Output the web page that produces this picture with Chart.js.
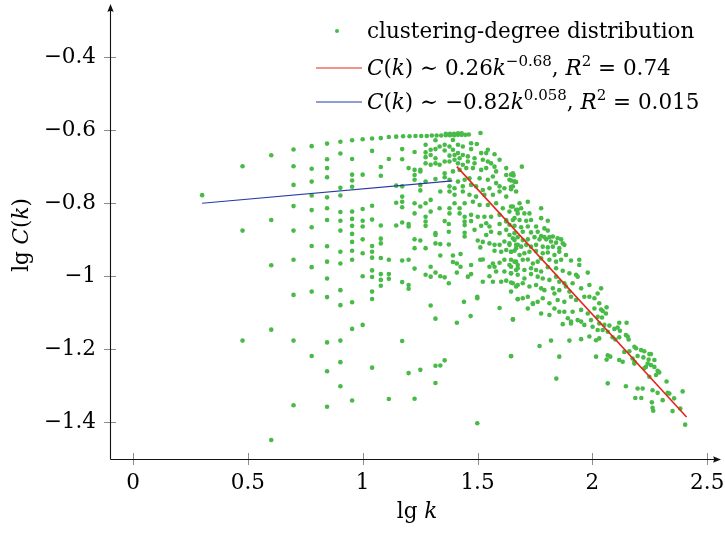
<!DOCTYPE html>
<html>
<head>
<meta charset="utf-8">
<script src="https://cdn.jsdelivr.net/npm/chart.js@4"></script>
<style>
  body { margin: 0; background: #fff; }
  #wrap { width: 725px; height: 533px; }
</style>
</head>
<body>
<div id="wrap"><canvas id="chart" width="725" height="533"></canvas></div>
<script>
// lg k / lg C(k) pairs
const lowDegree = [
    [0.301,-0.778],
    [0.477,-0.699],[0.477,-0.875],[0.477,-1.176],
    [0.602,-0.669],[0.602,-0.846],[0.602,-0.970],[0.602,-1.146],[0.602,-1.448],
    [0.699,-0.653],[0.699,-0.699],[0.699,-0.750],[0.699,-0.808],[0.699,-0.875],[0.699,-0.955],[0.699,-1.051],[0.699,-1.176],[0.699,-1.353],
    [0.778,-0.644],[0.778,-0.706],[0.778,-0.741],[0.778,-0.779],[0.778,-0.819],[0.778,-0.866],[0.778,-0.917],[0.778,-0.975],[0.778,-1.042],[0.778,-1.218],
    [0.845,-0.637],[0.845,-0.680],[0.845,-0.704],[0.845,-0.729],[0.845,-0.784],[0.845,-0.814],[0.845,-0.846],[0.845,-0.918],[0.845,-0.960],[0.845,-1.006],[0.845,-1.057],[0.845,-1.181],[0.845,-1.260],[0.845,-1.357],
    [0.903,-0.632],[0.903,-0.664],[0.903,-0.758],[0.903,-0.779],[0.903,-0.824],[0.903,-0.848],[0.903,-0.875],[0.903,-0.933],[0.903,-0.965],[0.903,-1.038],[0.903,-1.079],[0.903,-1.176],[0.903,-1.235],[0.903,-1.301],
    [0.954,-0.628],[0.954,-0.679],[0.954,-0.722],[0.954,-0.738],[0.954,-0.755],[0.954,-0.823],[0.954,-0.843],[0.954,-0.862],[0.954,-0.884],[0.954,-0.906],[0.954,-0.930],[0.954,-0.955],[0.954,-1.071],[0.954,-1.144],[0.954,-1.340],
    [1.000,-0.625],[1.000,-0.722],[1.000,-0.816],[1.000,-0.848],[1.000,-0.864],[1.000,-0.899],[1.000,-0.937],[1.000,-1.000],[1.000,-1.133],
    [1.041,-0.623],[1.041,-0.657],[1.041,-0.807],[1.041,-0.845],[1.041,-0.917],[1.041,-0.933],[1.041,-0.949],[1.041,-0.984],[1.041,-1.002],[1.041,-1.042],[1.041,-1.062],[1.041,-1.250],
    [1.079,-0.622],[1.079,-0.701],[1.079,-0.725],[1.079,-0.861],[1.079,-0.897],[1.079,-0.910],[1.079,-0.950],[1.079,-0.994],[1.079,-1.010],[1.079,-1.026],
    [1.114,-0.619],[1.114,-0.679],[1.114,-0.955],[1.114,-0.994],[1.114,-1.007],[1.114,-1.336],
    [1.146,-0.618],[1.146,-0.752],[1.146,-0.799],[1.146,-0.861]
];

const midDegree = [
    [1.176,-0.617],[1.204,-0.617],[1.230,-0.616],[1.255,-0.616],[1.279,-0.616],[1.301,-0.615],[1.322,-0.615],[1.342,-0.615],
    [1.362,-0.614],[1.380,-0.614],[1.398,-0.614],[1.415,-0.613],[1.431,-0.613],[1.447,-0.613],[1.462,-0.612],[1.513,-0.608],
    [1.362,-0.610],[1.380,-0.610],[1.398,-0.610],[1.415,-0.609],[1.431,-0.609],
    [1.274,-0.640],[1.317,-0.628],[1.335,-0.645],[1.357,-0.640],[1.378,-0.645],[1.393,-0.627],[1.415,-0.640],[1.436,-0.645],[1.472,-0.636],[1.497,-0.638],
    [1.172,-0.652],[1.226,-0.660],[1.274,-0.661],[1.296,-0.654],[1.317,-0.652],[1.357,-0.656],[1.393,-0.654],[1.415,-0.663],[1.436,-0.668],[1.472,-0.652],[1.545,-0.654],
    [1.172,-0.680],[1.274,-0.674],[1.296,-0.668],[1.317,-0.677],[1.378,-0.670],[1.400,-0.668],[1.422,-0.677],[1.458,-0.672],[1.487,-0.677],[1.516,-0.663],[1.538,-0.663],[1.574,-0.666],
    [1.200,-0.704],[1.226,-0.709],[1.251,-0.713],[1.274,-0.691],[1.296,-0.695],[1.317,-0.691],[1.335,-0.695],[1.357,-0.686],[1.378,-0.686],[1.400,-0.681],[1.415,-0.691],[1.436,-0.695],[1.458,-0.686],[1.487,-0.691],[1.523,-0.681],[1.545,-0.686],[1.559,-0.691],[1.596,-0.681],
    [1.226,-0.723],[1.251,-0.709],[1.357,-0.718],[1.393,-0.713],[1.422,-0.709],[1.451,-0.704],[1.480,-0.704],[1.516,-0.709],[1.538,-0.704],[1.574,-0.700],[1.581,-0.713],[1.625,-0.704],[1.654,-0.718],
    [1.226,-0.736],[1.274,-0.741],[1.317,-0.734],[1.357,-0.729],[1.378,-0.736],[1.415,-0.741],[1.444,-0.736],[1.465,-0.732],[1.509,-0.732],[1.545,-0.736],[1.567,-0.727],[1.581,-0.745],[1.625,-0.723],[1.639,-0.736],[1.661,-0.741],
    [1.172,-0.754],[1.251,-0.750],[1.338,-0.768],[1.378,-0.754],[1.400,-0.759],[1.436,-0.754],[1.472,-0.750],[1.494,-0.754],[1.523,-0.764],[1.552,-0.759],[1.596,-0.754],[1.617,-0.759],[1.654,-0.754],
    [1.251,-0.765],[1.378,-0.768],[1.400,-0.777],[1.436,-0.768],[1.465,-0.777],[1.494,-0.782],[1.530,-0.777],[1.567,-0.777],[1.596,-0.768],[1.625,-0.782],[1.668,-0.768],
    [1.172,-0.782],[1.172,-0.796],[1.172,-0.811],[1.226,-0.800],[1.251,-0.809],[1.274,-0.800],[1.296,-0.791],[1.335,-0.814],[1.378,-0.814],[1.400,-0.800],[1.422,-0.814],[1.444,-0.800],
    [1.480,-0.796],[1.509,-0.805],[1.545,-0.805],[1.581,-0.800],[1.610,-0.814],[1.646,-0.809],[1.675,-0.818],
    [1.226,-0.828],[1.274,-0.837],[1.296,-0.823],[1.378,-0.828],[1.422,-0.828],[1.444,-0.837],[1.472,-0.832],[1.501,-0.837],[1.530,-0.837],[1.559,-0.837],[1.596,-0.832],[1.625,-0.846],[1.661,-0.841],
    [1.172,-0.853],[1.200,-0.857],[1.200,-0.864],[1.274,-0.850],[1.274,-0.862],[1.357,-0.849],[1.375,-0.857],[1.444,-0.850],[1.444,-0.860],[1.472,-0.849],[1.516,-0.862],[1.538,-0.855],[1.552,-0.864],[1.596,-0.857],[1.625,-0.850],
    [1.317,-0.882],[1.317,-0.887],[1.375,-0.878],[1.444,-0.881],[1.444,-0.891],[1.487,-0.873],[1.538,-0.887],[1.559,-0.878],[1.596,-0.882],[1.625,-0.873],[1.639,-0.887],[1.661,-0.882],
    [1.226,-0.899],[1.251,-0.902],[1.317,-0.910],[1.338,-0.912],[1.375,-0.913],[1.501,-0.902],[1.523,-0.906],[1.552,-0.910],[1.574,-0.914],[1.596,-0.914],[1.617,-0.905],[1.639,-0.910],[1.661,-0.901],[1.675,-0.914],
    [1.226,-0.923],[1.274,-0.923],[1.512,-0.921],[1.574,-0.930],[1.603,-0.933],[1.625,-0.928],[1.646,-0.933],[1.668,-0.923],
    [1.338,-0.943],[1.393,-0.943],[1.426,-0.939],[1.172,-0.957],[1.200,-0.955],[1.226,-0.979],[1.393,-0.961],[1.410,-0.965],[1.426,-0.974],[1.472,-0.969],
    [1.512,-0.955],[1.523,-0.954],[1.567,-0.965],[1.574,-0.974],[1.596,-0.963],[1.617,-0.955],[1.639,-0.969],[1.661,-0.960],[1.675,-0.969],
    [1.296,-0.974],[1.552,-0.974],[1.581,-0.987],[1.617,-0.987],[1.646,-0.992],[1.668,-0.983],
    [1.274,-0.996],[1.296,-1.001],[1.317,-0.990],[1.338,-1.000],[1.357,-1.003],[1.410,-0.990],[1.458,-1.001],[1.472,-0.994],[1.552,-1.000],
    [1.603,-1.015],[1.625,-1.012],[1.646,-1.017],[1.668,-1.028],
    [1.172,-1.016],[1.200,-1.024],[1.200,-1.034],[1.375,-1.019],[1.523,-1.015],[1.567,-1.015],
    [1.499,-1.056],[1.499,-1.060],[1.441,-1.070],[1.675,-1.062],[1.296,-1.080],[1.596,-1.087],
    [1.317,-1.116],[1.470,-1.109],[1.654,-1.118],[1.410,-1.127],
    [1.172,-1.177],[1.200,-1.265],[1.251,-1.256],[1.317,-1.245],[1.338,-1.244],[1.357,-1.230],[1.317,-1.292],[1.226,-1.335],[1.499,-1.402],[1.646,-1.219]
];

const highDegree = [
    [1.693,-0.700],[1.646,-0.722],[1.657,-0.724],[1.646,-0.738],[1.661,-0.741],[1.668,-0.742],[1.646,-0.756],[1.646,-0.762],
    [1.683,-0.800],[1.719,-0.796],[1.777,-0.814],[1.654,-0.809],[1.668,-0.818],[1.690,-0.814],[1.639,-0.823],[1.675,-0.828],[1.704,-0.828],[1.726,-0.828],
    [1.777,-0.841],[1.806,-0.848],[1.654,-0.846],[1.683,-0.846],[1.712,-0.848],[1.733,-0.846],[1.755,-0.864],[1.791,-0.869],[1.806,-0.875],
    [1.639,-0.859],[1.661,-0.862],[1.690,-0.866],[1.719,-0.864],[1.697,-0.878],[1.733,-0.880],[1.762,-0.878],[1.777,-0.890],[1.791,-0.893],
    [1.813,-0.893],[1.828,-0.891],[1.849,-0.896],[1.864,-0.899],[1.654,-0.896],[1.675,-0.893],[1.697,-0.901],[1.719,-0.899],[1.748,-0.893],
    [1.770,-0.899],[1.799,-0.899],[1.820,-0.905],[1.842,-0.908],[1.871,-0.910],[1.639,-0.914],[1.668,-0.914],[1.690,-0.919],[1.712,-0.914],
    [1.733,-0.919],[1.755,-0.914],[1.784,-0.919],[1.806,-0.921],[1.828,-0.919],[1.856,-0.923],[1.878,-0.914],
    [1.646,-0.933],[1.661,-0.930],[1.683,-0.942],[1.704,-0.937],[1.726,-0.933],[1.755,-0.931],[1.784,-0.937],[1.806,-0.935],[1.835,-0.942],[1.856,-0.933],[1.885,-0.942],
    [1.646,-0.955],[1.668,-0.960],[1.697,-0.955],[1.719,-0.954],[1.741,-0.965],[1.762,-0.960],[1.777,-0.951],[1.813,-0.955],[1.842,-0.960],[1.864,-0.955],[1.907,-0.957],[1.943,-0.955],
    [1.646,-0.974],[1.675,-0.978],[1.704,-0.983],[1.733,-0.978],[1.755,-0.983],[1.777,-0.987],[1.806,-0.975],[1.842,-0.978],[1.871,-0.985],[1.900,-0.992],[1.929,-0.996],[1.943,-0.969],[1.980,-0.990],
    [1.646,-0.992],[1.675,-0.996],[1.704,-1.006],[1.733,-0.994],[1.762,-1.001],[1.784,-1.006],[1.813,-1.010],[1.842,-1.001],[1.856,-1.015],[1.878,-1.019],[1.914,-1.019],[1.936,-1.001],
    [1.654,-1.019],[1.675,-1.024],[1.697,-1.019],[1.726,-1.028],[1.755,-1.024],[1.777,-1.033],[1.791,-1.038],[1.828,-1.033],[1.856,-1.038],[1.885,-1.028],[1.900,-1.042],[1.951,-1.033],[1.987,-1.024],[2.023,-1.047],
    [1.646,-1.042],[1.675,-1.063],[1.697,-1.060],[1.719,-1.056],[1.741,-1.074],[1.762,-1.070],[1.784,-1.060],[1.813,-1.074],[1.835,-1.047],[1.849,-1.065],[1.878,-1.070],[1.907,-1.056],[1.929,-1.065],[1.965,-1.056],[1.987,-1.056],[2.009,-1.060],
    [1.719,-1.088],[1.741,-1.076],[1.777,-1.102],[1.813,-1.106],[1.835,-1.088],[1.856,-1.097],[1.878,-1.097],[1.914,-1.097],[1.951,-1.092],[1.980,-1.102],[2.009,-1.088],
    [1.654,-1.118],[1.893,-1.115],[1.907,-1.124],[1.936,-1.120],[1.965,-1.133],[1.994,-1.120],[2.023,-1.111],[1.871,-1.131],[1.907,-1.129],[1.951,-1.124],[2.001,-1.138],[2.023,-1.147],
    [1.820,-1.176],[1.900,-1.176],[1.951,-1.172],[1.987,-1.165],[2.016,-1.175],[1.770,-1.191],[1.646,-1.218],[1.856,-1.220],[2.016,-1.220],[1.843,-1.280],
    [2.038,-1.033],[2.030,-1.074],[2.038,-1.091],[2.045,-1.095],[2.059,-1.102],[2.062,-1.085],[2.042,-1.113],[2.030,-1.129],[2.052,-1.133],[2.074,-1.135],
    [2.045,-1.147],[2.067,-1.152],[2.096,-1.144],[2.110,-1.140],[2.117,-1.127],[2.120,-1.149],[2.149,-1.127],[2.030,-1.170],[2.088,-1.167],[2.100,-1.173],
    [2.117,-1.167],[2.146,-1.161],[2.158,-1.173],[2.154,-1.165],[2.139,-1.207],[2.161,-1.205],[2.067,-1.216],[2.078,-1.220],[2.062,-1.228],[2.117,-1.229],
    [2.132,-1.234],[2.183,-1.193],[2.190,-1.197],[2.212,-1.202],[2.226,-1.205],[2.248,-1.213],[2.255,-1.213],[2.197,-1.218],[2.222,-1.222],[2.245,-1.228],
    [2.270,-1.229],[2.175,-1.225],[2.183,-1.234],[2.183,-1.239],[2.241,-1.239],[2.255,-1.243],[2.233,-1.248],[2.226,-1.252],[2.270,-1.248],[2.284,-1.259],
    [2.291,-1.263],[2.277,-1.270],[2.248,-1.275],[2.067,-1.293],[2.146,-1.301],[2.197,-1.307],[2.219,-1.307],[2.262,-1.312],[2.284,-1.319],[2.323,-1.288],
    [2.328,-1.319],[2.335,-1.321],[2.306,-1.339],[2.356,-1.334],[2.393,-1.315],[2.187,-1.333],[2.213,-1.333],[2.259,-1.345],[2.262,-1.360],[2.265,-1.368],
    [2.349,-1.369],[2.383,-1.362],[2.404,-1.406]
];

// fitted lines (end points)
const powerFit = [[1.41, -0.700], [2.41, -1.385]];
const flatFit = [[0.301, -0.800], [1.39, -0.739]];

const xTicks = [0, 0.5, 1, 1.5, 2, 2.5];
const yTicks = [-1.4, -1.2, -1, -0.8, -0.6, -0.4];

const green = 'rgb(72,186,72)';
const red = 'rgb(228,38,28)';
const blue = 'rgb(40,58,165)';
const FONT = '"DejaVu Serif", serif';
const FS = 21.5;

const toXY = arr => arr.map(p => ({ x: p[0], y: p[1] }));

function drawRich(ctx, segs, x, y) {
    let cx = x;
    segs.forEach(s => {
        const size = s.sup ? 15 : FS;
        ctx.font = (s.it ? 'italic ' : '') + size + 'px ' + FONT;
        ctx.fillText(s.t, cx, s.sup ? y - 9 : y);
        cx += ctx.measureText(s.t).width;
    });
    return cx;
}

function richWidth(ctx, segs) {
    let w = 0;
    segs.forEach(s => {
        ctx.font = (s.it ? 'italic ' : '') + (s.sup ? 15 : FS) + 'px ' + FONT;
        w += ctx.measureText(s.t).width;
    });
    return w;
}

// drop the label overhang padding so the plot area sits where the reference has it
function noPad(s) {
    s.paddingTop = 0; s.paddingBottom = 0; s.paddingLeft = 0; s.paddingRight = 0;
}

const decorPlugin = {
    id: 'decor',
    afterDraw(chart) {
        const ctx = chart.ctx;
        const area = chart.chartArea;
        const xs = chart.scales.x, ys = chart.scales.y;
        ctx.save();

        // tick marks across the axes
        ctx.strokeStyle = '#8c8c8c';
        ctx.lineWidth = 1;
        yTicks.forEach(v => {
            const py = Math.round(ys.getPixelForValue(v)) + 0.5;
            ctx.beginPath(); ctx.moveTo(area.left - 6, py); ctx.lineTo(area.left + 6, py); ctx.stroke();
        });
        xTicks.forEach(v => {
            const px = Math.round(xs.getPixelForValue(v)) + 0.5;
            ctx.beginPath(); ctx.moveTo(px, area.bottom - 6); ctx.lineTo(px, area.bottom + 6); ctx.stroke();
        });

        // axis lines with arrow heads
        ctx.strokeStyle = '#111';
        ctx.fillStyle = '#111';
        ctx.lineWidth = 1.1;
        const ax = area.left + 0.5, ay = area.bottom + 0.5;
        ctx.beginPath(); ctx.moveTo(ax, ay); ctx.lineTo(ax, area.top + 3); ctx.stroke();
        ctx.beginPath(); ctx.moveTo(ax, ay); ctx.lineTo(area.right - 3, ay); ctx.stroke();
        ctx.beginPath();
        ctx.moveTo(ax, area.top); ctx.lineTo(ax - 3.2, area.top + 8); ctx.quadraticCurveTo(ax, area.top + 6, ax + 3.2, area.top + 8); ctx.closePath(); ctx.fill();
        ctx.beginPath();
        ctx.moveTo(area.right, ay); ctx.lineTo(area.right - 8, ay - 3.2); ctx.quadraticCurveTo(area.right - 6, ay, area.right - 8, ay + 3.2); ctx.closePath(); ctx.fill();

        // axis titles
        ctx.fillStyle = '#000';
        ctx.textBaseline = 'alphabetic';
        const xt = [{ t: 'lg ' }, { t: 'k', it: true }];
        drawRich(ctx, xt, 417 - richWidth(ctx, xt) / 2, 518);

        ctx.save();
        ctx.translate(28, 235);
        ctx.rotate(-Math.PI / 2);
        const yt = [{ t: 'lg ' }, { t: 'C', it: true }, { t: '(' }, { t: 'k', it: true }, { t: ')' }];
        drawRich(ctx, yt, -richWidth(ctx, yt) / 2, 0);
        ctx.restore();

        // legend
        const lx = 316, tx = 367;
        const rows = [31, 68, 102];
        ctx.fillStyle = green;
        ctx.beginPath(); ctx.arc(337, rows[0], 2, 0, Math.PI * 2); ctx.fill();
        ctx.lineWidth = 1;
        ctx.strokeStyle = red;
        ctx.beginPath(); ctx.moveTo(lx, rows[1]); ctx.lineTo(lx + 46, rows[1]); ctx.stroke();
        ctx.strokeStyle = blue;
        ctx.beginPath(); ctx.moveTo(lx, rows[2]); ctx.lineTo(lx + 46, rows[2]); ctx.stroke();

        ctx.fillStyle = '#000';
        drawRich(ctx, [{ t: 'clustering-degree distribution' }], tx, rows[0] + 7);
        drawRich(ctx, [
            { t: 'C', it: true }, { t: '(' }, { t: 'k', it: true }, { t: ') \u223C 0.26' }, { t: 'k', it: true },
            { t: '\u22120.68', sup: true }, { t: ', ' }, { t: 'R', it: true }, { t: '2', sup: true }, { t: ' = 0.74' }
        ], tx, rows[1] + 7);
        drawRich(ctx, [
            { t: 'C', it: true }, { t: '(' }, { t: 'k', it: true }, { t: ') \u223C \u22120.82' }, { t: 'k', it: true },
            { t: '0.058', sup: true }, { t: ', ' }, { t: 'R', it: true }, { t: '2', sup: true }, { t: ' = 0.015' }
        ], tx, rows[2] + 7);

        ctx.restore();
    }
};

const scatterPoints = toXY(lowDegree.concat(midDegree, highDegree));

new Chart(document.getElementById('chart').getContext('2d'), {
    type: 'scatter',
    data: {
        datasets: [
            {
                label: 'C(k) \u223C 0.26k^\u22120.68, R^2 = 0.74',
                data: toXY(powerFit),
                showLine: true,
                borderColor: red,
                borderWidth: 1.6,
                pointRadius: 0,
                order: 0
            },
            {
                label: 'C(k) \u223C \u22120.82k^0.058, R^2 = 0.015',
                data: toXY(flatFit),
                showLine: true,
                borderColor: blue,
                borderWidth: 1.1,
                pointRadius: 0,
                order: 1
            },
            {
                label: 'clustering-degree distribution',
                data: scatterPoints,
                backgroundColor: green,
                borderWidth: 0,
                pointRadius: 2.3,
                order: 2
            }
        ]
    },
    options: {
        responsive: false,
        animation: false,
        devicePixelRatio: 1,
        layout: { padding: { top: 4, right: 3, left: 0, bottom: 0 } },
        plugins: {
            legend: { display: false },
            tooltip: { enabled: false }
        },
        scales: {
            x: {
                type: 'linear',
                min: -0.1,
                max: 2.56,
                grid: { display: false, drawTicks: false },
                border: { display: false },
                afterBuildTicks: s => { s.ticks = xTicks.map(v => ({ value: v })); },
                afterFit: s => { s.height = 74; noPad(s); },
                ticks: {
                    padding: 12,
                    color: '#000',
                    font: { family: FONT, size: FS },
                    maxRotation: 0,
                    callback: v => String(v)
                }
            },
            y: {
                type: 'linear',
                min: -1.5,
                max: -0.255,
                grid: { display: false, drawTicks: false },
                border: { display: false },
                afterBuildTicks: s => { s.ticks = yTicks.map(v => ({ value: v })); },
                afterFit: s => { s.width = 110; noPad(s); },
                ticks: {
                    padding: 14,
                    color: '#000',
                    font: { family: FONT, size: FS },
                    callback: v => '\u2212' + String(Math.abs(v))
                }
            }
        }
    },
    plugins: [decorPlugin]
});
</script>
</body>
</html>
